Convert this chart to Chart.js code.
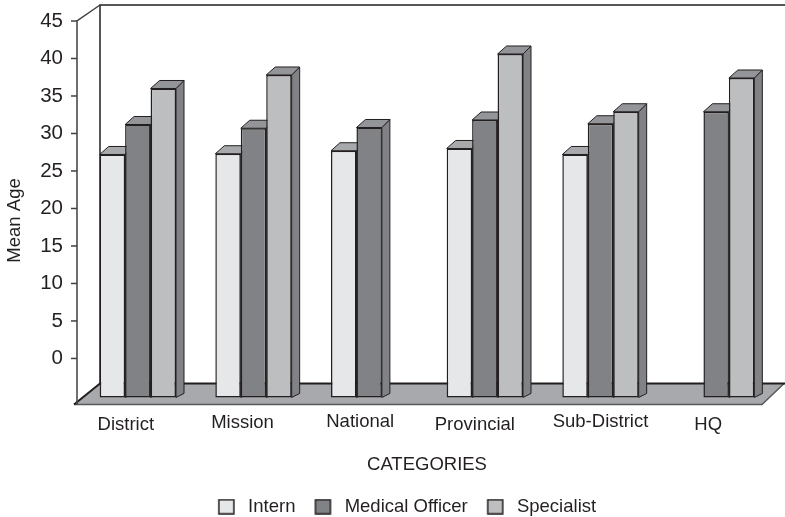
<!DOCTYPE html>
<html>
<head>
<meta charset="utf-8">
<style>
  body { margin: 0; background: #fff; }
</style>
<script src="https://cdn.jsdelivr.net/npm/chart.js@4"></script>
</head>
<body>
<canvas id="ageChart" width="785" height="517"></canvas>
<script>
// Mean age by category, 3D look bars

const categories = ["District", "Mission", "National", "Provincial", "Sub-District", "HQ"];
const internAges = [27.2, 27.3, 27.7, 28.0, 27.2, null];
const medicalOfficerAges = [31.2, 30.7, 30.8, 31.8, 31.3, 32.9];
const specialistAges = [36.0, 37.8, null, 40.6, 32.9, 37.4];
const yTicks = [0, 5, 10, 15, 20, 25, 30, 35, 40, 45];

// the printed labels are not quite centred, nudge them [x, y]
const labelNudge = [[-12, 1], [-11, -1], [-9, -2], [-10, 1], [0, -2], [-8, 1]];

const INK = "#231f20";
const FONT = { family: "'Liberation Sans', Arial, sans-serif", size: 18.5 };
const TICK_FONT = { family: FONT.family, size: 20.5 };
const axisMin = -6.14;
const barBase = -5.2;

// legend swatch with a bit of empty room on its right
function legendSwatch(fill) {
  const cv = document.createElement("canvas");
  cv.width = 22;
  cv.height = 16;
  const c = cv.getContext("2d");
  c.fillStyle = fill;
  c.strokeStyle = INK;
  c.lineWidth = 1.5;
  c.fillRect(2, 1, 15, 14);
  c.strokeRect(2, 1, 15, 14);
  return cv;
}

const depth3d = {
  id: "depth3d",
  afterUpdate(chart) {
    const x = chart.scales.x;
    x.getLabelItems().forEach((item, i) => {
      item.options.translation[0] += labelNudge[i][0];
      item.options.translation[1] += labelNudge[i][1];
    });
    // legend sits right of the page centre in the original
    chart.legend.left += 19.5;
    chart.legend.right += 19.5;
  },
  beforeDatasetsDraw(chart) {
    const c = chart.ctx;
    const { left, right, top, bottom } = chart.chartArea;
    const y = chart.scales.y;
    const axisX = left - 3;
    const wallX = left + 20;
    const wallTop = top - 16;
    const floorBack = bottom - 21;
    const canvasR = chart.width;

    const poly = (pts, fill, stroke, lw) => {
      c.beginPath();
      pts.forEach((p, i) => (i ? c.lineTo(p[0], p[1]) : c.moveTo(p[0], p[1])));
      if (fill) {
        c.closePath();
        c.fillStyle = fill;
        c.fill();
      }
      if (stroke) {
        c.strokeStyle = stroke;
        c.lineWidth = lw;
        c.stroke();
      }
    };

    c.save();
    // floor
    poly([[axisX - 3, bottom], [wallX, floorBack], [canvasR, floorBack], [right - 12, bottom]], "#a7a9ac");
    poly([[canvasR - 1, floorBack], [right - 12, bottom], [axisX - 3, bottom]], null, "#58595b", 1.5);
    poly([[axisX - 3, bottom], [wallX, floorBack], [canvasR, floorBack]], null, INK, 2);
    // back wall and y axis
    poly([[wallX, floorBack], [wallX, wallTop], [canvasR, wallTop]], null, INK, 1.5);
    poly([[axisX, bottom], [axisX, top], [wallX, wallTop]], null, "#414042", 1.5);
    yTicks.forEach(v => {
      const py = y.getPixelForValue(v);
      poly([[axisX - 6, py], [axisX, py]], null, "#414042", 1.5);
    });

    // tops and sides, the front faces are drawn over these by the chart
    const dx = 8, dy = -8;
    chart.data.datasets.forEach((ds, d) => {
      chart.getDatasetMeta(d).data.forEach((el, i) => {
        if (ds.data[i] == null) return;
        const l = el.x - el.width / 2, r = el.x + el.width / 2;
        poly([[r, el.y], [r + dx, el.y + dy], [r + dx, el.base - 4], [r, el.base]], "#808285", INK, 1);
        poly([[l, el.y], [l + dx + 1, el.y + dy], [r + dx, el.y + dy], [r, el.y]], d === 0 ? "#a7a9ac" : "#939598", INK, 1);
      });
    });
    c.restore();
  },
};

new Chart(document.getElementById("ageChart"), {
  type: "bar",
  data: {
    labels: categories,
    datasets: [
      { label: "Intern", data: internAges, backgroundColor: "#e6e7e8" },
      { label: "Medical Officer", data: medicalOfficerAges, backgroundColor: "#808285" },
      { label: "Specialist", data: specialistAges, backgroundColor: "#bcbec0" },
    ].map(ds => ({ ...ds, base: barBase, borderColor: INK, borderWidth: 1.5, borderSkipped: false })),
  },
  options: {
    responsive: false,
    animation: false,
    events: [],
    layout: { padding: { top: 21, right: 11, left: 0, bottom: -9 } },
    datasets: { bar: { categoryPercentage: 0.66, barPercentage: 1 } },
    scales: {
      x: {
        grid: { display: false },
        border: { display: false },
        ticks: { color: INK, font: FONT, padding: 0, maxRotation: 0 },
        title: { display: true, text: "CATEGORIES", color: INK, font: FONT, padding: { top: 0, bottom: 3 } },
        afterFit: s => { s.height = 75; },
      },
      y: {
        min: axisMin,
        max: 45,
        grid: { display: false },
        border: { display: false },
        afterBuildTicks: s => { s.ticks = yTicks.map(v => ({ value: v })); },
        ticks: { color: INK, font: TICK_FONT, padding: 9 },
        title: { display: true, text: "Mean Age   ", color: INK, font: FONT, padding: { top: 4, bottom: 0 } },
        afterFit: s => {
          s.width = 80;
          s.paddingTop = 0;
          s.paddingBottom = 0;
        },
      },
    },
    plugins: {
      tooltip: { enabled: false },
      legend: {
        position: "bottom",
        labels: {
          color: INK,
          font: FONT,
          usePointStyle: true,
          pointStyleWidth: 22,
          boxHeight: 16,
          padding: 18,
          generateLabels: chart =>
            Chart.defaults.plugins.legend.labels.generateLabels(chart).map(item => ({
              ...item,
              pointStyle: legendSwatch(item.fillStyle),
            })),
        },
      },
    },
  },
  plugins: [depth3d],
});
</script>
</body>
</html>
